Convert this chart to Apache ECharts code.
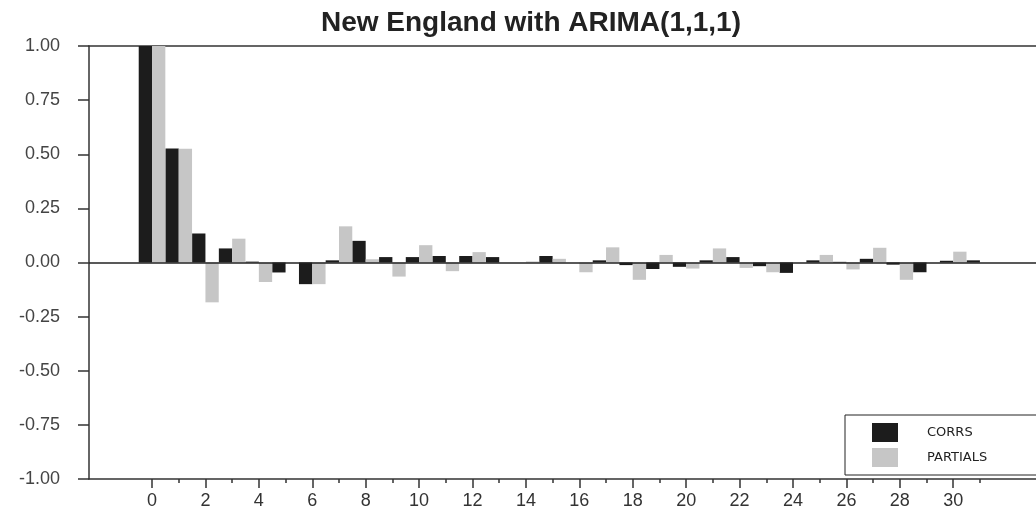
<!DOCTYPE html>
<html>
<head>
<meta charset="utf-8">
<script src="https://cdn.jsdelivr.net/npm/echarts@6/dist/echarts.min.js"></script>
<style>
  html, body { margin: 0; padding: 0; background: #fff; }
  #chart { width: 1036px; height: 512px; }
</style>
</head>
<body>
<div id="chart"></div>
<script>
// lags 0..31, values
const lags = [0, 1, 2, 3, 4, 5, 6, 7, 8, 9, 10, 11, 12, 13, 14, 15,
    16, 17, 18, 19, 20, 21, 22, 23, 24, 25, 26, 27, 28, 29, 30, 31];
const corrs = [1.0, 0.527, 0.134, 0.065, 0.004, -0.046, -0.10, 0.01, 0.10, 0.025, 0.025, 0.03, 0.03, 0.025, 0.0, 0.03,
    0.0, 0.01, -0.012, -0.03, -0.02, 0.01, 0.025, -0.017, -0.048, 0.01, 0.003, 0.017, -0.01, -0.045, 0.008, 0.01];
const partials = [1.0, 0.525, -0.184, 0.11, -0.09, 0.0, -0.10, 0.167, 0.015, -0.065, 0.08, -0.04, 0.048, 0.0, 0.005, 0.017,
    -0.045, 0.07, -0.08, 0.035, -0.028, 0.065, -0.025, -0.045, 0.0, 0.035, -0.032, 0.068, -0.08, 0.0, 0.05, 0.0];
const majorTicks = [0, 2, 4, 6, 8, 10, 12, 14, 16, 18, 20, 22, 24, 26, 28, 30];

const axisColor = '#333';
const xMin = -2.36, xMax = 33.1;

const chart = echarts.init(document.getElementById('chart'));
chart.setOption({
    animation: false,
    title: {
        text: 'New England with ARIMA(1,1,1)',
        left: 526,
        textAlign: 'center',
        top: 4,
        textStyle: { fontFamily: 'Liberation Sans', fontWeight: 'bold', fontSize: 28, color: '#222' }
    },
    legend: {
        orient: 'vertical',
        left: 845,
        top: 415,
        padding: [8, 200, 8, 27],
        itemGap: 6,
        itemWidth: 26,
        itemHeight: 19,
        borderColor: '#222',
        borderWidth: 1,
        backgroundColor: '#fff',
        textStyle: { fontFamily: 'DejaVu Sans', fontSize: 13, color: '#222', padding: [0, 0, 0, 24] },
        data: [
            { name: 'CORRS', icon: 'rect' },
            { name: 'PARTIALS', icon: 'rect' }
        ]
    },
    grid: { left: 89, right: 0, top: 46, bottom: 33 },
    xAxis: [
        {
            type: 'value',
            min: xMin,
            max: xMax,
            position: 'bottom',
            axisLine: { onZero: false, lineStyle: { color: axisColor, width: 1.5 } },
            axisTick: { show: true, customValues: majorTicks, length: 9, lineStyle: { color: axisColor, width: 1.5 } },
            axisLabel: {
                customValues: majorTicks,
                margin: 13,
                fontFamily: 'Liberation Sans Narrow, Liberation Sans',
                fontSize: 18,
                color: '#333'
            },
            splitLine: { show: false }
        },
        {
            type: 'value',
            min: xMin,
            max: xMax,
            position: 'bottom',
            axisLine: { show: false, onZero: false },
            axisTick: { show: true, customValues: lags, length: 4, lineStyle: { color: axisColor, width: 1.5 } },
            axisLabel: { show: false },
            splitLine: { show: false }
        },
        {
            type: 'value',
            min: xMin,
            max: xMax,
            position: 'top',
            axisLine: { onZero: false, lineStyle: { color: axisColor, width: 1.5 } },
            axisTick: { show: false },
            axisLabel: { show: false },
            splitLine: { show: false }
        }
    ],
    yAxis: {
        type: 'value',
        min: -1,
        max: 1,
        interval: 0.25,
        axisLine: { show: true, onZero: false, lineStyle: { color: axisColor, width: 1.5 } },
        axisTick: { show: true, length: 11, lineStyle: { color: axisColor, width: 1.5 } },
        axisLabel: {
            margin: 29,
            fontFamily: 'Liberation Sans',
            fontSize: 18,
            color: '#444',
            formatter: v => v.toFixed(2)
        },
        splitLine: { show: false }
    },
    series: [
        {
            name: 'CORRS',
            type: 'bar',
            barWidth: 13.3,
            barGap: '0%',
            data: lags.map((l, i) => [l, corrs[i]]),
            itemStyle: { color: '#1c1c1c' },
            markLine: {
                silent: true,
                symbol: 'none',
                label: { show: false },
                lineStyle: { color: '#222', width: 1.5, type: 'solid' },
                data: [{ yAxis: 0 }]
            }
        },
        {
            name: 'PARTIALS',
            type: 'bar',
            barWidth: 13.3,
            barGap: '0%',
            data: lags.map((l, i) => [l, partials[i]]),
            itemStyle: { color: '#c6c6c6' }
        }
    ]
});
</script>
</body>
</html>
